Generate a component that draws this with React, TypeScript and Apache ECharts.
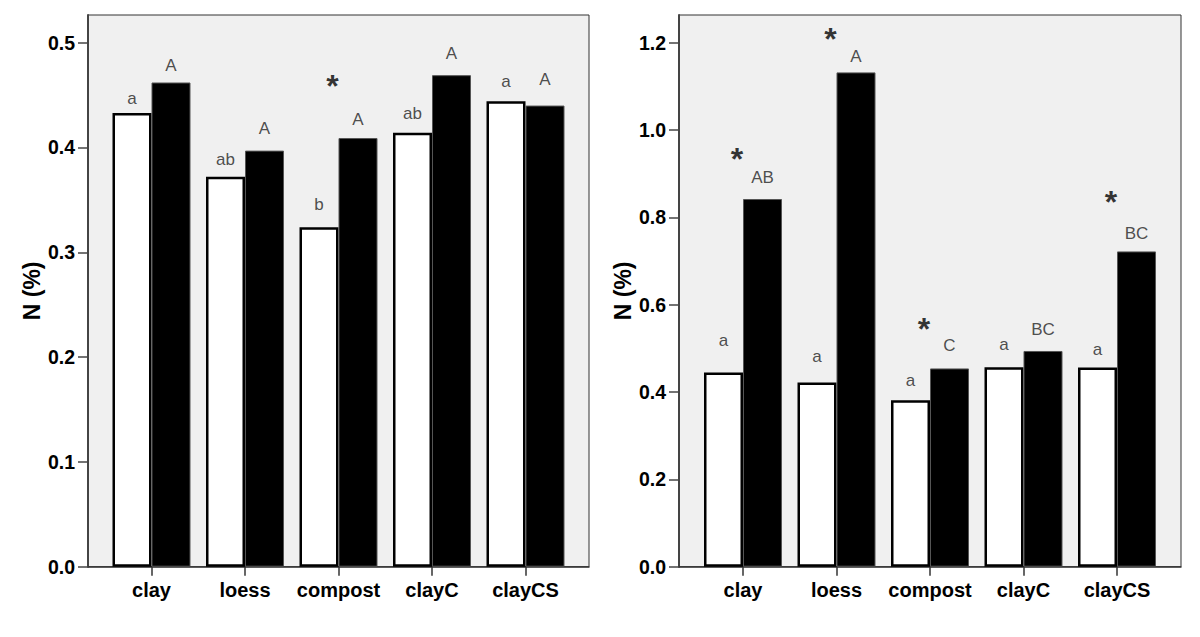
import React, { useEffect, useRef } from "react";
import * as echarts from "echarts";

const categories = ["clay", "loess", "compost", "clayC", "clayCS"];

// Left panel
const leftWhite = [0.433, 0.372, 0.324, 0.414, 0.444];
const leftBlack = [0.462, 0.397, 0.409, 0.469, 0.440];
const leftWhiteLetters = ["a", "ab", "b", "ab", "a"];
const leftWhiteLetterY = [0.4463, 0.3888, 0.346, 0.432, 0.4628];
const leftBlackLetters = ["A", "A", "A", "A", "A"];
const leftBlackLetterY = [0.478, 0.4183, 0.4263, 0.4892, 0.4644];
const leftStarCats = [2];
const leftStarY = [0.4654];
const leftTicks = [0, 0.1, 0.2, 0.3, 0.4, 0.5];
const leftMax = 0.5264;

// Right panel
const rightWhite = [0.445, 0.422, 0.381, 0.457, 0.456];
const rightBlack = [0.842, 1.132, 0.454, 0.494, 0.722];
const rightWhiteLetters = ["a", "a", "a", "a", "a"];
const rightWhiteLetterY = [0.5173, 0.4822, 0.4257, 0.5097, 0.4983];
const rightBlackLetters = ["AB", "A", "C", "BC", "BC"];
const rightBlackLetterY = [0.8907, 1.1679, 0.5058, 0.5434, 0.7633];
const rightStarCats = [0, 1, 2, 4];
const rightStarY = [0.95, 1.2252, 0.56, 0.851];
const rightTicks = [0, 0.2, 0.4, 0.6, 0.8, 1.0, 1.2];
const rightMax = 1.2634;

const FONT = "'Liberation Sans', Arial, Helvetica, sans-serif";

function panel(
  g: number,
  left: number,
  width: number,
  max: number,
  ticks: number[],
  interval: number,
  white: number[],
  black: number[],
  wl: string[],
  wy: number[],
  bl: string[],
  by: number[],
  starCats: number[],
  starY: number[]
) {
  const top = 15;
  const height = 551.7;
  const pad = (width - 467.5) / 2;
  const grids = [
    {
      left,
      top,
      width,
      height,
      show: true,
      backgroundColor: "#f0f0f0",
      borderColor: "#333",
      borderWidth: 1,
    },
    { left: left + pad, top, width: 467.5, height },
  ];
  const xAxes = [
    {
      gridIndex: g,
      type: "value",
      min: 0,
      max: 1,
      axisLine: { show: true, onZero: false, lineStyle: { color: "#333", width: 1.5 } },
      axisTick: { show: false },
      axisLabel: { show: false },
      splitLine: { show: false },
    },
    {
      gridIndex: g + 1,
      type: "category",
      data: categories,
      boundaryGap: true,
      axisLine: { show: false },
      axisTick: {
        show: true,
        interval: 0,
        alignWithLabel: true,
        length: 9,
        lineStyle: { color: "#333", width: 1.5 },
      },
      axisLabel: {
        show: true,
        interval: 0,
        margin: 13,
        fontFamily: FONT,
        fontWeight: "bold",
        fontSize: 20,
        color: "#000",
      },
      splitLine: { show: false },
    },
  ];
  const yAxes = [
    {
      gridIndex: g,
      type: "value",
      min: 0,
      max,
      interval,
      name: "N (%)",
      nameLocation: "middle",
      nameGap: 43,
      nameTextStyle: { fontFamily: FONT, fontWeight: "bold", fontSize: 23, color: "#000" },
      axisLine: { show: true, lineStyle: { color: "#444", width: 2 } },
      axisTick: {
        show: true,
        length: 10,
        customValues: ticks,
        lineStyle: { color: "#444", width: 1.5 },
      },
      axisLabel: {
        show: true,
        customValues: ticks,
        margin: 13,
        formatter: (v: number) => v.toFixed(1),
        fontFamily: FONT,
        fontWeight: "bold",
        fontSize: 19.5,
        color: "#000",
      },
      splitLine: { show: false },
    },
    {
      gridIndex: g + 1,
      type: "value",
      min: 0,
      max,
      interval,
      show: false,
      splitLine: { show: false },
    },
  ];
  const xi = g + 1;
  const yi = g + 1;
  const letterStyle = {
    show: true,
    position: "inside",
    fontFamily: FONT,
    fontSize: 17,
    color: "#222",
  };
  const series = [
    {
      type: "bar",
      xAxisIndex: xi,
      yAxisIndex: yi,
      data: white,
      barWidth: 39,
      barGap: "0%",
      itemStyle: { color: "#fff", borderColor: "#000", borderWidth: 2.5 },
    },
    {
      type: "bar",
      xAxisIndex: xi,
      yAxisIndex: yi,
      data: black,
      barWidth: 39,
      barGap: "0%",
      itemStyle: { color: "#000", borderColor: "#555", borderWidth: 1 },
    },
    {
      type: "scatter",
      xAxisIndex: xi,
      yAxisIndex: yi,
      silent: true,
      symbolSize: 1,
      itemStyle: { color: "rgba(0,0,0,0)" },
      data: wy.map((y, i) => [i, y]),
      label: { ...letterStyle, offset: [-19.5, 0], formatter: (p: any) => wl[p.dataIndex] },
      z: 5,
    },
    {
      type: "scatter",
      xAxisIndex: xi,
      yAxisIndex: yi,
      silent: true,
      symbolSize: 1,
      itemStyle: { color: "rgba(0,0,0,0)" },
      data: by.map((y, i) => [i, y]),
      label: { ...letterStyle, offset: [19.5, 0], formatter: (p: any) => bl[p.dataIndex] },
      z: 5,
    },
    {
      type: "scatter",
      xAxisIndex: xi,
      yAxisIndex: yi,
      silent: true,
      symbolSize: 1,
      itemStyle: { color: "rgba(0,0,0,0)" },
      data: starY.map((y, i) => [starCats[i], y]),
      label: {
        show: true,
        position: "inside",
        offset: [-6, 7],
        formatter: "*",
        fontFamily: FONT,
        fontWeight: "bold",
        fontSize: 32,
        color: "#000",
      },
      z: 5,
    },
  ];
  return { grids, xAxes, yAxes, series };
}

export default function App() {
  const ref = useRef<HTMLDivElement>(null);
  useEffect(() => {
    if (!ref.current) return;
    const chart = echarts.init(ref.current, undefined, { renderer: "svg" });
    const L = panel(0, 88, 501, leftMax, leftTicks, 0.1, leftWhite, leftBlack,
      leftWhiteLetters, leftWhiteLetterY, leftBlackLetters, leftBlackLetterY, leftStarCats, leftStarY);
    const R = panel(2, 679, 502, rightMax, rightTicks, 0.2, rightWhite, rightBlack,
      rightWhiteLetters, rightWhiteLetterY, rightBlackLetters, rightBlackLetterY, rightStarCats, rightStarY);
    chart.setOption({
      animation: false,
      backgroundColor: "#fff",
      grid: [...L.grids, ...R.grids],
      xAxis: [...L.xAxes, ...R.xAxes],
      yAxis: [...L.yAxes, ...R.yAxes],
      series: [...L.series, ...R.series],
    });
    return () => chart.dispose();
  }, []);
  return (
    <div
      ref={ref}
      style={{ position: "fixed", left: 0, top: 0, width: 1200, height: 637 }}
    />
  );
}
